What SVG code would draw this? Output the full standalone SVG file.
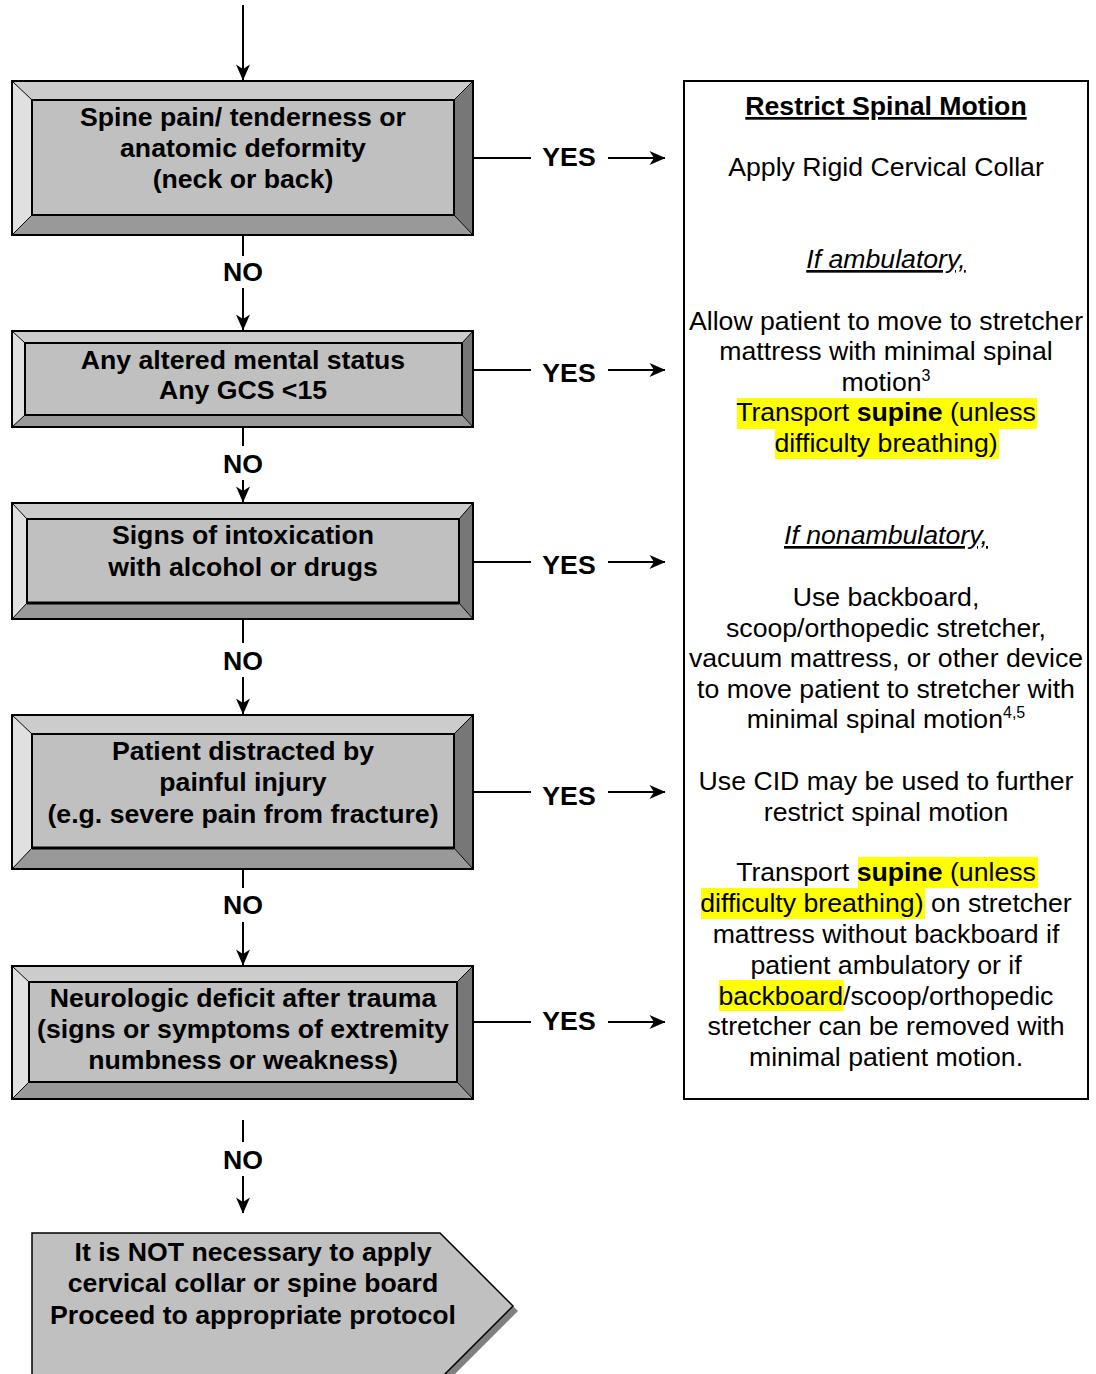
<svg xmlns="http://www.w3.org/2000/svg" width="1096" height="1374" viewBox="0 0 1096 1374">
<style>
.b{font-family:"Liberation Sans",Arial,sans-serif;font-size:26.67px;font-weight:bold;text-anchor:middle;fill:#000}
.r{font-family:"Liberation Sans",Arial,sans-serif;font-size:26.67px;text-anchor:middle;fill:#000}
.bt{fill:#cccccc}.bl{fill:#e0e0e0}.br{fill:#777777}.bb{fill:#999999}
.face{fill:#c0c0c0;stroke:#000;stroke-width:2}
.out{fill:none;stroke:#000;stroke-width:2}
.dg{stroke:#000;stroke-width:1}
.ln{stroke:#000;stroke-width:2;fill:none}
.hl{fill:#ffff00}
</style>
<defs>
<marker id="ah" markerWidth="18" markerHeight="16" refX="16" refY="8" orient="auto" markerUnits="userSpaceOnUse">
<path d="M0.5,1 L16.5,8 L0.5,15 L5,8 Z" fill="#000"/>
</marker>
</defs>
<rect width="1096" height="1374" fill="#fff"/>

<g id="connectors">
<line class="ln" x1="243" y1="5" x2="243" y2="80" marker-end="url(#ah)"/>
<line class="ln" x1="243" y1="235" x2="243" y2="256"/>
<text class="b" x="243" y="281">NO</text>
<line class="ln" x1="243" y1="288" x2="243" y2="330" marker-end="url(#ah)"/>
<line class="ln" x1="243" y1="427" x2="243" y2="446"/>
<text class="b" x="243" y="473">NO</text>
<line class="ln" x1="243" y1="480" x2="243" y2="502" marker-end="url(#ah)"/>
<line class="ln" x1="243" y1="619" x2="243" y2="643"/>
<text class="b" x="243" y="670">NO</text>
<line class="ln" x1="243" y1="677" x2="243" y2="714" marker-end="url(#ah)"/>
<line class="ln" x1="243" y1="869" x2="243" y2="888"/>
<text class="b" x="243" y="914">NO</text>
<line class="ln" x1="243" y1="922" x2="243" y2="965" marker-end="url(#ah)"/>
<line class="ln" x1="243" y1="1120" x2="243" y2="1142"/>
<text class="b" x="243" y="1169">NO</text>
<line class="ln" x1="243" y1="1176" x2="243" y2="1213" marker-end="url(#ah)"/>

<line class="ln" x1="473" y1="158" x2="531" y2="158"/>
<text class="b" x="569" y="166">YES</text>
<line class="ln" x1="608" y1="158" x2="665" y2="158" marker-end="url(#ah)"/>
<line class="ln" x1="473" y1="370" x2="531" y2="370"/>
<text class="b" x="569" y="382">YES</text>
<line class="ln" x1="608" y1="370" x2="665" y2="370" marker-end="url(#ah)"/>
<line class="ln" x1="473" y1="562" x2="531" y2="562"/>
<text class="b" x="569" y="574">YES</text>
<line class="ln" x1="608" y1="562" x2="665" y2="562" marker-end="url(#ah)"/>
<line class="ln" x1="473" y1="792" x2="531" y2="792"/>
<text class="b" x="569" y="805">YES</text>
<line class="ln" x1="608" y1="792" x2="665" y2="792" marker-end="url(#ah)"/>
<line class="ln" x1="473" y1="1022" x2="531" y2="1022"/>
<text class="b" x="569" y="1030">YES</text>
<line class="ln" x1="608" y1="1022" x2="665" y2="1022" marker-end="url(#ah)"/>
</g>

<g id="node-spine-pain">
<polygon class="bt" points="12,81 473,81 454,100 32,100"/>
<polygon class="bl" points="12,81 32,100 32,215 12,235"/>
<polygon class="br" points="473,81 473,235 454,215 454,100"/>
<polygon class="bb" points="12,235 32,215 454,215 473,235"/>
<line class="dg" x1="12" y1="81" x2="32" y2="100"/><line class="dg" x1="473" y1="81" x2="454" y2="100"/>
<line class="dg" x1="12" y1="235" x2="32" y2="215"/><line class="dg" x1="473" y1="235" x2="454" y2="215"/>
<rect class="face" x="32" y="100" width="422" height="115"/>
<rect class="out" x="12" y="81" width="461" height="154"/>
<text class="b" x="243" y="126">Spine pain/ tenderness or</text>
<text class="b" x="243" y="157">anatomic deformity</text>
<text class="b" x="243" y="188">(neck or back)</text>
</g>

<g id="node-mental-status">
<polygon class="bt" points="12,331 473,331 462,343 25,343"/>
<polygon class="bl" points="12,331 25,343 25,415 12,427"/>
<polygon class="br" points="473,331 473,427 462,415 462,343"/>
<polygon class="bb" points="12,427 25,415 462,415 473,427"/>
<line class="dg" x1="12" y1="331" x2="25" y2="343"/><line class="dg" x1="473" y1="331" x2="462" y2="343"/>
<line class="dg" x1="12" y1="427" x2="25" y2="415"/><line class="dg" x1="473" y1="427" x2="462" y2="415"/>
<rect class="face" x="25" y="343" width="437" height="72"/>
<rect class="out" x="12" y="331" width="461" height="96"/>
<text class="b" x="243" y="369">Any altered mental status</text>
<text class="b" x="243" y="399">Any GCS &lt;15</text>
</g>

<g id="node-intoxication">
<polygon class="bt" points="12,503 473,503 459,519 27,519"/>
<polygon class="bl" points="12,503 27,519 27,603 12,619"/>
<polygon class="br" points="473,503 473,619 459,603 459,519"/>
<polygon class="bb" points="12,619 27,603 459,603 473,619"/>
<line class="dg" x1="12" y1="503" x2="27" y2="519"/><line class="dg" x1="473" y1="503" x2="459" y2="519"/>
<line class="dg" x1="12" y1="619" x2="27" y2="603"/><line class="dg" x1="473" y1="619" x2="459" y2="603"/>
<rect class="face" x="27" y="519" width="432" height="84"/>
<line x1="27" y1="603" x2="459" y2="603" stroke="#000" stroke-width="3"/>
<rect class="out" x="12" y="503" width="461" height="116"/>
<text class="b" x="243" y="544">Signs of intoxication</text>
<text class="b" x="243" y="576">with alcohol or drugs</text>
</g>

<g id="node-distracted">
<polygon class="bt" points="12,715 473,715 454,734 32,734"/>
<polygon class="bl" points="12,715 32,734 32,848 12,869"/>
<polygon class="br" points="473,715 473,869 454,848 454,734"/>
<polygon class="bb" points="12,869 32,848 454,848 473,869"/>
<line class="dg" x1="12" y1="715" x2="32" y2="734"/><line class="dg" x1="473" y1="715" x2="454" y2="734"/>
<line class="dg" x1="12" y1="869" x2="32" y2="848"/><line class="dg" x1="473" y1="869" x2="454" y2="848"/>
<rect class="face" x="32" y="734" width="422" height="114"/>
<line x1="32" y1="848" x2="454" y2="848" stroke="#000" stroke-width="3"/>
<rect class="out" x="12" y="715" width="461" height="154"/>
<text class="b" x="243" y="760">Patient distracted by</text>
<text class="b" x="243" y="791">painful injury</text>
<text class="b" x="243" y="823">(e.g. severe pain from fracture)</text>
</g>

<g id="node-neuro">
<polygon class="bt" points="12,966 473,966 457,982 29,982"/>
<polygon class="bl" points="12,966 29,982 29,1082 12,1099"/>
<polygon class="br" points="473,966 473,1099 457,1082 457,982"/>
<polygon class="bb" points="12,1099 29,1082 457,1082 473,1099"/>
<line class="dg" x1="12" y1="966" x2="29" y2="982"/><line class="dg" x1="473" y1="966" x2="457" y2="982"/>
<line class="dg" x1="12" y1="1099" x2="29" y2="1082"/><line class="dg" x1="473" y1="1099" x2="457" y2="1082"/>
<rect class="face" x="29" y="982" width="428" height="100"/>
<rect class="out" x="12" y="966" width="461" height="133"/>
<text class="b" x="243" y="1007">Neurologic deficit after trauma</text>
<text class="b" x="243" y="1038">(signs or symptoms of extremity</text>
<text class="b" x="243" y="1069">numbness or weakness)</text>
</g>

<g id="node-not-necessary">
<polygon points="37,1238 445,1238 518,1311 445,1384 37,1384" fill="#808080"/>
<polygon points="32,1233 440,1233 513,1306 440,1379 32,1379" fill="#c0c0c0" stroke="#000" stroke-width="1.5"/>
<text class="b" x="253" y="1261">It is NOT necessary to apply</text>
<text class="b" x="253" y="1292">cervical collar or spine board</text>
<text class="b" x="253" y="1324">Proceed to appropriate protocol</text>
</g>

<g id="node-restrict">
<rect x="684" y="81" width="404" height="1018" fill="#fff" stroke="#000" stroke-width="2"/>
<rect class="hl" x="737" y="398" width="300" height="31"/>
<rect class="hl" x="775" y="429" width="224" height="30"/>
<rect class="hl" x="858" y="857" width="180" height="31"/>
<rect class="hl" x="701" y="888" width="224" height="31"/>
<rect class="hl" x="719" y="980" width="125" height="31"/>
<text class="b" x="886" y="115" text-decoration="underline">Restrict Spinal Motion</text>
<text class="r" x="886" y="176">Apply Rigid Cervical Collar</text>
<text class="r" x="886" y="268" font-style="italic" text-decoration="underline">If ambulatory,</text>
<text class="r" x="886" y="330">Allow patient to move to stretcher</text>
<text class="r" x="886" y="360">mattress with minimal spinal</text>
<text class="r" x="886" y="391">motion<tspan font-size="16" dy="-10">3</tspan></text>
<text class="r" x="886" y="421">Transport <tspan font-weight="bold">supine</tspan> (unless</text>
<text class="r" x="886" y="452">difficulty breathing)</text>
<text class="r" x="886" y="544" font-style="italic" text-decoration="underline">If nonambulatory,</text>
<text class="r" x="886" y="606">Use backboard,</text>
<text class="r" x="886" y="637">scoop/orthopedic stretcher,</text>
<text class="r" x="886" y="667">vacuum mattress, or other device</text>
<text class="r" x="886" y="698">to move patient to stretcher with</text>
<text class="r" x="886" y="728">minimal spinal motion<tspan font-size="16" dy="-10">4,5</tspan></text>
<text class="r" x="886" y="790">Use CID may be used to further</text>
<text class="r" x="886" y="821">restrict spinal motion</text>
<text class="r" x="886" y="881">Transport <tspan font-weight="bold">supine</tspan> (unless</text>
<text class="r" x="886" y="912">difficulty breathing) on stretcher</text>
<text class="r" x="886" y="943">mattress without backboard if</text>
<text class="r" x="886" y="974">patient ambulatory or if</text>
<text class="r" x="886" y="1005">backboard/scoop/orthopedic</text>
<text class="r" x="886" y="1035">stretcher can be removed with</text>
<text class="r" x="886" y="1066">minimal patient motion.</text>
</g>
</svg>
